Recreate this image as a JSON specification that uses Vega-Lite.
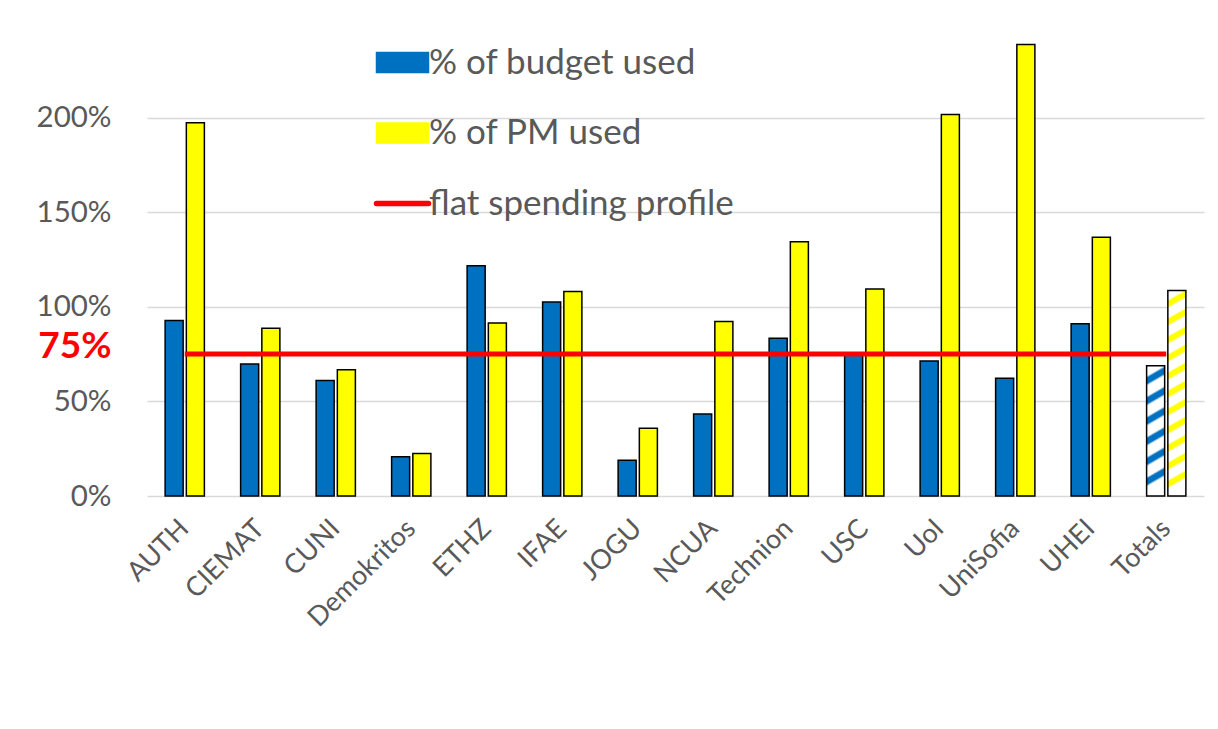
{
  "$schema": "https://vega.github.io/schema/vega-lite/v6.json",
  "autosize": {"type": "none"},
  "width": 1057,
  "height": 473,
  "padding": {"left": 147, "top": 23, "right": 14, "bottom": 233},
  "background": "white",
  "config": {
    "font": "Lato",
    "view": {"stroke": null}
  },
  "datasets": {
    "bars": [
      {"org": "AUTH", "series": "% of budget used", "pct": 92.8},
      {"org": "AUTH", "series": "% of PM used", "pct": 197.3},
      {"org": "CIEMAT", "series": "% of budget used", "pct": 69.8},
      {"org": "CIEMAT", "series": "% of PM used", "pct": 88.7},
      {"org": "CUNI", "series": "% of budget used", "pct": 61.0},
      {"org": "CUNI", "series": "% of PM used", "pct": 66.7},
      {"org": "Demokritos", "series": "% of budget used", "pct": 20.8},
      {"org": "Demokritos", "series": "% of PM used", "pct": 22.4},
      {"org": "ETHZ", "series": "% of budget used", "pct": 121.7},
      {"org": "ETHZ", "series": "% of PM used", "pct": 91.5},
      {"org": "IFAE", "series": "% of budget used", "pct": 102.5},
      {"org": "IFAE", "series": "% of PM used", "pct": 108.1},
      {"org": "JOGU", "series": "% of budget used", "pct": 18.9},
      {"org": "JOGU", "series": "% of PM used", "pct": 35.8},
      {"org": "NCUA", "series": "% of budget used", "pct": 43.4},
      {"org": "NCUA", "series": "% of PM used", "pct": 92.2},
      {"org": "Technion", "series": "% of budget used", "pct": 83.4},
      {"org": "Technion", "series": "% of PM used", "pct": 134.4},
      {"org": "USC", "series": "% of budget used", "pct": 74.6},
      {"org": "USC", "series": "% of PM used", "pct": 109.4},
      {"org": "UoI", "series": "% of budget used", "pct": 71.3},
      {"org": "UoI", "series": "% of PM used", "pct": 201.6},
      {"org": "UniSofia", "series": "% of budget used", "pct": 62.3},
      {"org": "UniSofia", "series": "% of PM used", "pct": 238.6},
      {"org": "UHEI", "series": "% of budget used", "pct": 91.0},
      {"org": "UHEI", "series": "% of PM used", "pct": 136.7},
      {"org": "Totals", "series": "% of budget used", "pct": 68.8},
      {"org": "Totals", "series": "% of PM used", "pct": 108.6}
    ],
    "flat": [
      {"org": "AUTH", "series": "flat spending profile", "pct": 75},
      {"org": "Totals", "series": "flat spending profile", "pct": 75}
    ]
  },
  "layer": [
    {
      "data": {"name": "bars"},
      "mark": {"type": "bar", "stroke": "#000000", "strokeWidth": 1.5},
      "encoding": {
        "x": {
          "field": "org", "type": "nominal",
          "sort": ["AUTH","CIEMAT","CUNI","Demokritos","ETHZ","IFAE","JOGU","NCUA","Technion","USC","UoI","UniSofia","UHEI","Totals"],
          "scale": {"paddingInner": 0.48, "paddingOuter": 0.24},
          "axis": {
            "title": null, "domain": false, "ticks": false, "grid": false,
            "labelAngle": -45, "labelAlign": "right", "labelBaseline": "middle",
            "labelFontSize": 27, "labelColor": "#595959", "labelPadding": 28, "labelFont": "Lato"
          }
        },
        "xOffset": {
          "field": "series", "type": "nominal",
          "scale": {"domain": ["% of budget used", "% of PM used"], "paddingInner": 0.15, "paddingOuter": 0}
        },
        "y": {
          "field": "pct", "type": "quantitative",
          "scale": {"domain": [0, 250], "nice": false},
          "axis": {
            "title": null, "domain": false, "ticks": false,
            "values": [0, 50, 75, 100, 150, 200],
            "labelExpr": "datum.value + '%'",
            "labelFontSize": {"condition": {"test": "datum.value === 75", "value": 37}, "value": 29.5},
            "labelFontWeight": {"condition": {"test": "datum.value === 75", "value": "bold"}, "value": "normal"},
            "labelColor": {"condition": {"test": "datum.value === 75", "value": "#FF0000"}, "value": "#595959"},
            "labelOffset": {"condition": {"test": "datum.value === 75", "value": -8}, "value": 0},
            "labelPadding": 36,
            "gridColor": {"condition": {"test": "datum.value === 75", "value": "transparent"}, "value": "#D9D9D9"},
            "gridWidth": 1.6
          }
        },
        "color": {
          "field": "series", "type": "nominal",
          "scale": {
            "domain": ["% of budget used", "% of PM used", "flat spending profile"],
            "range": ["#0070C0", "#FFFF00", "#FF0000"]
          },
          "condition": [
            {
              "test": "datum.org === 'Totals' && datum.series === '% of budget used'",
              "value": {
                "gradient": "linear", "x1": 0, "y1": 0, "x2": 0.08, "y2": 1,
                "stops": [
                  {"offset": 0, "color": "#FFFFFF"},
                  {"offset": 0.077, "color": "#FFFFFF"},
                  {"offset": 0.095, "color": "#0070C0"},
                  {"offset": 0.135, "color": "#0070C0"},
                  {"offset": 0.154, "color": "#FFFFFF"},
                  {"offset": 0.231, "color": "#FFFFFF"},
                  {"offset": 0.249, "color": "#0070C0"},
                  {"offset": 0.289, "color": "#0070C0"},
                  {"offset": 0.308, "color": "#FFFFFF"},
                  {"offset": 0.385, "color": "#FFFFFF"},
                  {"offset": 0.403, "color": "#0070C0"},
                  {"offset": 0.443, "color": "#0070C0"},
                  {"offset": 0.462, "color": "#FFFFFF"},
                  {"offset": 0.539, "color": "#FFFFFF"},
                  {"offset": 0.557, "color": "#0070C0"},
                  {"offset": 0.597, "color": "#0070C0"},
                  {"offset": 0.616, "color": "#FFFFFF"},
                  {"offset": 0.693, "color": "#FFFFFF"},
                  {"offset": 0.711, "color": "#0070C0"},
                  {"offset": 0.751, "color": "#0070C0"},
                  {"offset": 0.770, "color": "#FFFFFF"},
                  {"offset": 0.847, "color": "#FFFFFF"},
                  {"offset": 0.865, "color": "#0070C0"},
                  {"offset": 0.905, "color": "#0070C0"},
                  {"offset": 0.924, "color": "#FFFFFF"},
                  {"offset": 1, "color": "#FFFFFF"}
                ]
              }
            },
            {
              "test": "datum.org === 'Totals' && datum.series === '% of PM used'",
              "value": {
                "gradient": "linear", "x1": 0, "y1": 0, "x2": 0.05, "y2": 1,
                "stops": [
                  {"offset": 0, "color": "#FFFFFF"},
                  {"offset": 0.044, "color": "#FFFFFF"},
                  {"offset": 0.054, "color": "#FFFF00"},
                  {"offset": 0.077, "color": "#FFFF00"},
                  {"offset": 0.0875, "color": "#FFFFFF"},
                  {"offset": 0.1315, "color": "#FFFFFF"},
                  {"offset": 0.1415, "color": "#FFFF00"},
                  {"offset": 0.1645, "color": "#FFFF00"},
                  {"offset": 0.175, "color": "#FFFFFF"},
                  {"offset": 0.219, "color": "#FFFFFF"},
                  {"offset": 0.229, "color": "#FFFF00"},
                  {"offset": 0.252, "color": "#FFFF00"},
                  {"offset": 0.2625, "color": "#FFFFFF"},
                  {"offset": 0.3065, "color": "#FFFFFF"},
                  {"offset": 0.3165, "color": "#FFFF00"},
                  {"offset": 0.3395, "color": "#FFFF00"},
                  {"offset": 0.35, "color": "#FFFFFF"},
                  {"offset": 0.394, "color": "#FFFFFF"},
                  {"offset": 0.404, "color": "#FFFF00"},
                  {"offset": 0.427, "color": "#FFFF00"},
                  {"offset": 0.4375, "color": "#FFFFFF"},
                  {"offset": 0.4815, "color": "#FFFFFF"},
                  {"offset": 0.4915, "color": "#FFFF00"},
                  {"offset": 0.5145, "color": "#FFFF00"},
                  {"offset": 0.525, "color": "#FFFFFF"},
                  {"offset": 0.569, "color": "#FFFFFF"},
                  {"offset": 0.579, "color": "#FFFF00"},
                  {"offset": 0.602, "color": "#FFFF00"},
                  {"offset": 0.6125, "color": "#FFFFFF"},
                  {"offset": 0.6565, "color": "#FFFFFF"},
                  {"offset": 0.6665, "color": "#FFFF00"},
                  {"offset": 0.6895, "color": "#FFFF00"},
                  {"offset": 0.7, "color": "#FFFFFF"},
                  {"offset": 0.744, "color": "#FFFFFF"},
                  {"offset": 0.754, "color": "#FFFF00"},
                  {"offset": 0.777, "color": "#FFFF00"},
                  {"offset": 0.7875, "color": "#FFFFFF"},
                  {"offset": 0.8315, "color": "#FFFFFF"},
                  {"offset": 0.8415, "color": "#FFFF00"},
                  {"offset": 0.8645, "color": "#FFFF00"},
                  {"offset": 0.875, "color": "#FFFFFF"},
                  {"offset": 0.919, "color": "#FFFFFF"},
                  {"offset": 0.929, "color": "#FFFF00"},
                  {"offset": 0.952, "color": "#FFFF00"},
                  {"offset": 0.9625, "color": "#FFFFFF"},
                  {"offset": 1, "color": "#FFFFFF"}
                ]
              }
            }
          ],
          "legend": {
            "title": null,
            "orient": "none",
            "legendX": 238,
            "legendY": 22,
            "direction": "vertical",
            "padding": 0,
            "symbolSize": 2704,
            "symbolType": "M-1,-0.38H1V0.38H-1Z",
            "symbolStrokeColor": "#000000",
            "symbolStrokeWidth": 1.5,
            "rowPadding": 34.5,
            "labelFontSize": 35,
            "labelColor": "#595959",
            "labelFont": "Lato",
            "labelOffset": 9,
            "labelLimit": 0,
            "encode": {
              "symbols": {
                "update": {
                  "shape": {"signal": "datum.value === 'flat spending profile' ? 'M-1,0H1' : 'M-1,-0.38H1V0.38H-1Z'"},
                  "fill": {"signal": "datum.value === '% of budget used' ? '#0070C0' : datum.value === '% of PM used' ? '#FFFF00' : 'transparent'"},
                  "stroke": {"signal": "datum.value === 'flat spending profile' ? '#FF0000' : '#000000'"},
                  "strokeWidth": {"signal": "datum.value === 'flat spending profile' ? 5.5 : 1.5"},
                  "strokeCap": {"value": "round"}
                }
              }
            }
          }
        }
      }
    },
    {
      "data": {"name": "flat"},
      "mark": {"type": "line", "strokeWidth": 5, "strokeCap": "butt"},
      "encoding": {
        "x": {"field": "org", "type": "nominal", "sort": ["AUTH","CIEMAT","CUNI","Demokritos","ETHZ","IFAE","JOGU","NCUA","Technion","USC","UoI","UniSofia","UHEI","Totals"]},
        "y": {"field": "pct", "type": "quantitative"},
        "color": {"field": "series", "type": "nominal", "legend": null}
      }
    }
  ]
}
